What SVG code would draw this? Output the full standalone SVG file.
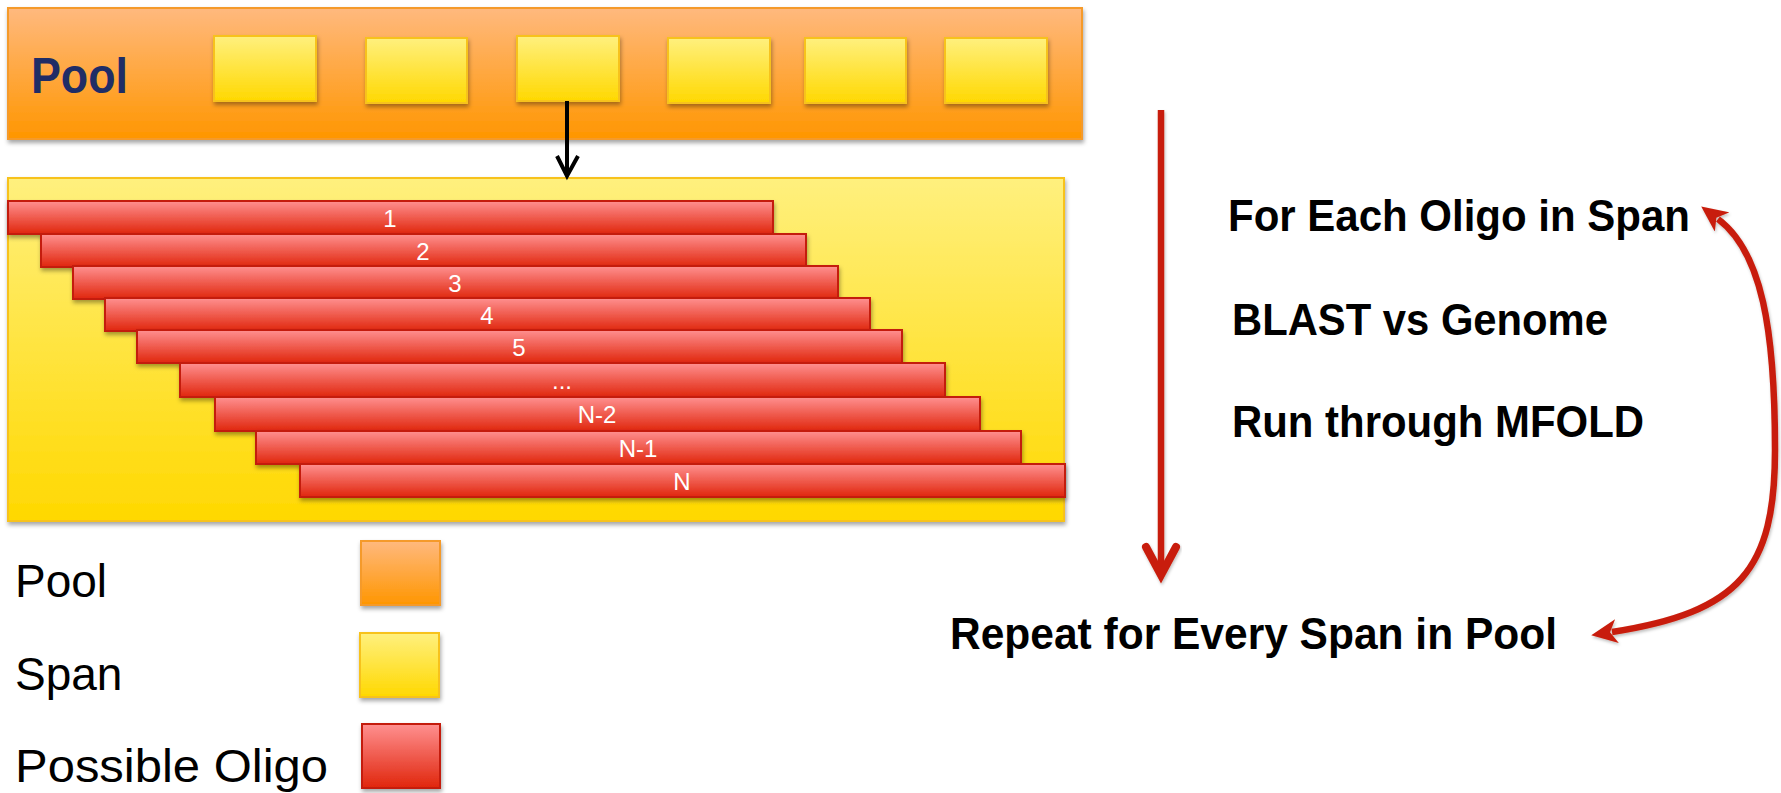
<svg xmlns="http://www.w3.org/2000/svg" width="1781" height="793" viewBox="0 0 1781 793">
<defs>
<linearGradient id="gOrange" x1="0" y1="0" x2="0" y2="1"><stop offset="0" stop-color="#ffb97e"/><stop offset="1" stop-color="#ff9600"/></linearGradient>
<linearGradient id="gYellow" x1="0" y1="0" x2="0" y2="1"><stop offset="0" stop-color="#fff07e"/><stop offset="1" stop-color="#ffd800"/></linearGradient>
<linearGradient id="gRed" x1="0" y1="0" x2="0" y2="1"><stop offset="0" stop-color="#ff9090"/><stop offset="1" stop-color="#e0260c"/></linearGradient>
<filter id="shadow" x="-10%" y="-20%" width="120%" height="160%"><feDropShadow dx="1" dy="3" stdDeviation="2" flood-color="#000" flood-opacity="0.35"/></filter>
<filter id="lshadow" x="-20%" y="-20%" width="140%" height="140%"><feDropShadow dx="1" dy="2" stdDeviation="1.5" flood-color="#000" flood-opacity="0.25"/></filter>
<marker id="redHead" viewBox="0 0 26 24" refX="5" refY="12" markerWidth="26" markerHeight="24" markerUnits="userSpaceOnUse" orient="auto-start-reverse">
<path d="M0,0 L26,12 L0,24 L7,12 Z" fill="#c81e0a"/>
</marker>
</defs>
<style>
.pool{fill:url(#gOrange);stroke:#f59a2a;stroke-width:2;filter:url(#shadow)}
.span{fill:url(#gYellow);stroke:#f7c21c;stroke-width:2;filter:url(#shadow)}
.oligo{fill:url(#gRed);stroke:#c41a08;stroke-width:2;filter:url(#shadow)}
.lbl{font-family:"Liberation Sans",Arial,sans-serif;font-size:24px;fill:#ffffff;text-anchor:middle}
.leg{font-family:"Liberation Sans",Arial,sans-serif;font-size:46px;fill:#000}
.step{font-family:"Liberation Sans",Arial,sans-serif;font-size:44px;font-weight:bold;fill:#000}
.redline{fill:none;stroke:#c81e0a;stroke-width:6.5;filter:url(#lshadow)}
</style>

<g id="pool-band">
<rect class="pool" x="8" y="8" width="1074" height="131"/>
<text x="31" y="93" font-family="'Liberation Sans',Arial,sans-serif" font-size="50" font-weight="bold" fill="#1f2d66" textLength="97" lengthAdjust="spacingAndGlyphs">Pool</text>
</g>
<g id="pool-spans">
<rect class="span" x="214" y="36" width="102" height="65"/>
<rect class="span" x="366" y="38" width="101" height="65"/>
<rect class="span" x="517" y="36" width="102" height="65"/>
<rect class="span" x="668" y="38" width="102" height="65"/>
<rect class="span" x="805" y="38" width="101" height="65"/>
<rect class="span" x="945" y="38" width="102" height="65"/>
</g>

<g id="span-box">
<rect class="span" x="8" y="178" width="1056" height="343"/>
</g>

<g id="oligos">
<g id="oligo-1"><rect class="oligo" x="8" y="201" width="765" height="33"/><text class="lbl" x="390" y="227">1</text></g>
<g id="oligo-2"><rect class="oligo" x="41" y="234" width="765" height="33"/><text class="lbl" x="423" y="260">2</text></g>
<g id="oligo-3"><rect class="oligo" x="73" y="266" width="765" height="33"/><text class="lbl" x="455" y="292">3</text></g>
<g id="oligo-4"><rect class="oligo" x="105" y="298" width="765" height="33"/><text class="lbl" x="487" y="324">4</text></g>
<g id="oligo-5"><rect class="oligo" x="137" y="330" width="765" height="33"/><text class="lbl" x="519" y="356">5</text></g>
<g id="oligo-6"><rect class="oligo" x="180" y="363" width="765" height="34"/><text class="lbl" x="562" y="389">...</text></g>
<g id="oligo-n2"><rect class="oligo" x="215" y="397" width="765" height="34"/><text class="lbl" x="597" y="423">N-2</text></g>
<g id="oligo-n1"><rect class="oligo" x="256" y="431" width="765" height="33"/><text class="lbl" x="638" y="457">N-1</text></g>
<g id="oligo-n"><rect class="oligo" x="300" y="464" width="765" height="33"/><text class="lbl" x="682" y="490">N</text></g>
</g>

<g id="legend">
<g id="legend-pool"><text class="leg" x="15" y="597">Pool</text><rect class="pool" x="361" y="541" width="79" height="64"/></g>
<g id="legend-span"><text class="leg" x="15" y="690">Span</text><rect class="span" x="360" y="633" width="79" height="64"/></g>
<g id="legend-oligo"><text class="leg" x="15" y="782" textLength="313" lengthAdjust="spacingAndGlyphs">Possible Oligo</text><rect class="oligo" x="362" y="724" width="78" height="64"/></g>
</g>

<g id="steps">
<text id="step-for-each" class="step" x="1228" y="231" textLength="462" lengthAdjust="spacingAndGlyphs">For Each Oligo in Span</text>
<text id="step-blast" class="step" x="1232" y="335" textLength="376" lengthAdjust="spacingAndGlyphs">BLAST vs Genome</text>
<text id="step-mfold" class="step" x="1232" y="437" textLength="412" lengthAdjust="spacingAndGlyphs">Run through MFOLD</text>
<text id="step-repeat" class="step" x="950" y="649" textLength="607" lengthAdjust="spacingAndGlyphs">Repeat for Every Span in Pool</text>
</g>

<g id="connectors">
<path d="M567,101 L567,176" fill="none" stroke="#000" stroke-width="4"/>
<path d="M557,156 L567,176 L578,156" fill="none" stroke="#000" stroke-width="4" stroke-linejoin="miter"/>
<g filter="url(#lshadow)">
<path d="M1161,110 L1161,574" fill="none" stroke="#c81e0a" stroke-width="6.5"/>
<path d="M1146,547 L1161,575 L1176,547" fill="none" stroke="#c81e0a" stroke-width="8" stroke-linecap="round" stroke-linejoin="miter"/>
</g>
<path class="redline" d="M1718,219 C1762,252 1775,330 1775,450 C1775,570 1740,612 1612,632" marker-start="url(#redHead)" marker-end="url(#redHead)"/>
</g>
</svg>
